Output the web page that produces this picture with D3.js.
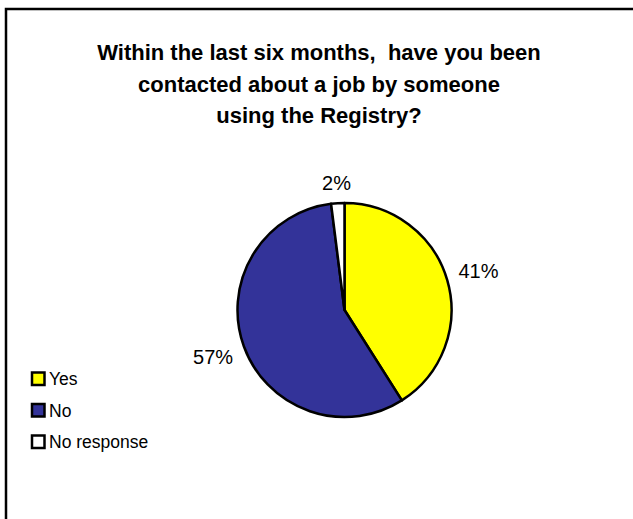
<!DOCTYPE html>
<html>
<head>
<meta charset="utf-8">
<script src="https://cdn.jsdelivr.net/npm/d3@7"></script>
<style>
  body { margin: 0; background: #fff; }
  text { font-family: "Liberation Sans", Arial, sans-serif; white-space: pre; }
</style>
</head>
<body>
<div id="chart"></div>
<script>
// chart data
const categories = ['Yes', 'No', 'No response'];
const values = [41, 57, 2];
const colors = ['#ffff00', '#333399', '#ffffff'];
const titleLines = ['Within the last six months,  have you been', 'contacted about a job by someone', 'using the Registry?'];

const width = 633, height = 519;

const svg = d3.select('#chart')
    .append('svg')
    .attr('width', width)
    .attr('height', height);

// outer frame (runs off the right and bottom edges)
svg.append('rect')
    .attr('x', 6).attr('y', 9)
    .attr('width', width + 10).attr('height', height + 10)
    .attr('fill', 'none')
    .attr('stroke', '#000')
    .attr('stroke-width', 2.5);

// title
svg.append('g').selectAll('text')
    .data(titleLines)
    .join('text')
    .attr('x', 319)
    .attr('y', (d, i) => 60 + i * 31.5)
    .attr('text-anchor', 'middle')
    .attr('font-size', 22)
    .attr('font-weight', 'bold')
    .text(d => d);

// pie
const cx = 344.5, cy = 310, r = 107;
const pieGen = d3.pie().sort(null).value(d => d);
const arcs = pieGen(values);
const arcGen = d3.arc().innerRadius(0).outerRadius(r);

const chart = svg.append('g').attr('transform', `translate(${cx},${cy})`);
chart.selectAll('path')
    .data(arcs)
    .join('path')
    .attr('d', arcGen)
    .attr('fill', (d, i) => colors[i])
    .attr('stroke', '#000')
    .attr('stroke-width', 2.5)
    .attr('stroke-linejoin', 'round');

// percentage labels: box kept a small gap outside the rim along the mid angle
const gap = 11;
chart.selectAll('text')
    .data(arcs)
    .join('text')
    .attr('text-anchor', 'middle')
    .attr('dy', '0.35em')
    .attr('font-size', 20)
    .text(d => d.data + '%')
    .each(function(d) {
        const box = this.getBBox();
        const a = (d.startAngle + d.endAngle) / 2;
        const ux = Math.sin(a), uy = -Math.cos(a);
        const dist = r + gap + Math.abs(ux) * box.width / 2 + Math.abs(uy) * 8;
        d3.select(this).attr('transform', `translate(${ux * dist},${uy * dist})`);
    });

// legend
const legend = svg.append('g').attr('transform', 'translate(32,379)');
const item = legend.selectAll('g')
    .data(categories)
    .join('g')
    .attr('transform', (d, i) => `translate(0,${i * 31.5})`);
item.append('rect')
    .attr('x', 0).attr('y', -6.5)
    .attr('width', 12.5).attr('height', 12.5)
    .attr('fill', (d, i) => colors[i])
    .attr('stroke', '#000')
    .attr('stroke-width', 2.5);
item.append('text')
    .attr('x', 17)
    .attr('dy', '0.36em')
    .attr('font-size', 17.5)
    .text(d => d);
</script>
</body>
</html>
